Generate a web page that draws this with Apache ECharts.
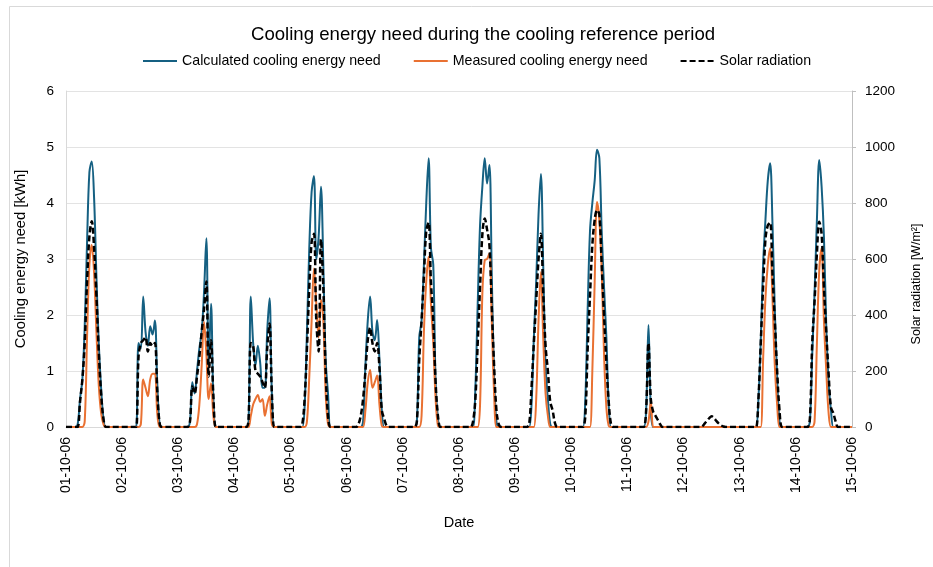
<!DOCTYPE html>
<html>
<head>
<meta charset="utf-8">
<script src="https://cdn.jsdelivr.net/npm/echarts@6/dist/echarts.min.js"></script>
<style>
  html, body { margin: 0; padding: 0; background: #fff; }
  #chart { width: 933px; height: 567px; }
</style>
</head>
<body>
<div id="chart"></div>
<script>
// tick labels, one per day boundary
var dateLabels = ['01-10-06', '02-10-06', '03-10-06', '04-10-06', '05-10-06', '06-10-06', '07-10-06',
  '08-10-06', '09-10-06', '10-10-06', '11-10-06', '12-10-06', '13-10-06', '14-10-06', '15-10-06'];

// hourly values, one row of 24 per day
// calculated cooling energy need [kWh]
var calcDays = [
  [0,0,0,0,0,0.05,0.5,0.85,1.8,3.3,4.55,4.74,4.1,2.7,1.5,0.7,0.15,0,0,0,0,0,0,0],
  [0,0,0,0,0,0,0,1.5,1.4,2.33,1.7,1.45,1.8,1.65,1.9,0.8,0.05,0,0,0,0,0,0,0],
  [0,0,0,0,0,0.1,0.8,0.6,1.0,1.4,1.7,2.4,3.37,1.1,2.2,0.5,0,0,0,0,0,0,0,0],
  [0,0,0,0,0,0,0.05,2.33,1.5,1.1,1.45,1.15,0.7,0.7,1.7,2.3,0.6,0,0,0,0,0,0,0],
  [0,0,0,0,0,0,0.35,1.7,3.2,4.2,4.48,3.0,3.4,4.29,2.9,1.2,0.6,0,0,0,0,0,0,0],
  [0,0,0,0,0,0,0,0.1,1.1,1.9,2.33,1.7,1.55,1.91,1.2,0.3,0,0,0,0,0,0,0,0],
  [0,0,0,0,0,0,0.1,1.6,1.9,2.9,4.0,4.8,3.2,2.9,0.8,0.15,0,0,0,0,0,0,0,0],
  [0,0,0,0,0,0,0,0.7,2.2,3.6,4.3,4.8,4.35,4.68,2.74,0.9,0.1,0,0,0,0,0,0,0],
  [0,0,0,0,0,0,0,0.4,1.6,2.6,3.8,4.52,2.9,1.1,0.5,0.05,0,0,0,0,0,0,0,0],
  [0,0,0,0,0,0,0.5,2.1,3.5,4.0,4.4,4.95,4.8,3.5,2.5,1.6,0.4,0,0,0,0,0,0,0],
  [0,0,0,0,0,0,0,0,0.3,1.82,0.3,0,0,0,0,0,0,0,0,0,0,0,0,0],
  [0,0,0,0,0,0,0,0,0,0,0,0,0,0,0,0,0,0,0,0,0,0,0,0],
  [0,0,0,0,0,0,0,0,0.5,1.55,2.9,3.7,4.4,4.71,3.64,2.1,0.9,0.1,0,0,0,0,0,0],
  [0,0,0,0,0,0,0.1,1.3,2.4,3.7,4.77,4.3,3.4,1.8,0.8,0.3,0,0,0,0,0,0,0,0]
];

// measured cooling energy need [kWh]
var measDays = [
  [0,0,0,0,0,0,0,0,0.1,1.6,2.9,3.25,2.75,1.7,0.75,0.25,0.05,0,0,0,0,0,0,0],
  [0,0,0,0,0,0,0,0,0.05,0.85,0.7,0.55,0.85,0.95,0.95,0.25,0,0,0,0,0,0,0,0],
  [0,0,0,0,0,0,0,0,0.05,0.4,1.1,1.88,1.3,0.5,0.78,0.2,0,0,0,0,0,0,0,0],
  [0,0,0,0,0,0,0,0.2,0.4,0.5,0.57,0.45,0.5,0.2,0.4,0.55,0.05,0,0,0,0,0,0,0],
  [0,0,0,0,0,0,0,0.1,0.9,1.9,2.83,2.2,1.6,2.27,1.9,0.6,0.05,0,0,0,0,0,0,0],
  [0,0,0,0,0,0,0,0,0.3,0.8,1.02,0.7,0.8,0.92,0.4,0.02,0,0,0,0,0,0,0,0],
  [0,0,0,0,0,0,0,0,0.2,1.7,2.6,3.04,2.2,1.5,0.5,0.02,0,0,0,0,0,0,0,0],
  [0,0,0,0,0,0,0,0,0,0.4,2.4,2.98,3.0,3.1,1.9,0.6,0,0,0,0,0,0,0,0],
  [0,0,0,0,0,0,0,0,0,0.5,1.9,2.77,1.6,0.6,0.2,0,0,0,0,0,0,0,0,0],
  [0,0,0,0,0,0,0,0,0,1.0,2.6,4.02,3.7,2.8,1.3,0.35,0.02,0,0,0,0,0,0,0],
  [0,0,0,0,0,0,0,0,0,0.1,0.45,0,0,0,0,0,0,0,0,0,0,0,0,0],
  [0,0,0,0,0,0,0,0,0,0,0,0,0,0,0,0,0,0,0,0,0,0,0,0],
  [0,0,0,0,0,0,0,0,0,0,1.2,2.3,2.9,3.19,2.3,1.1,0.4,0,0,0,0,0,0,0],
  [0,0,0,0,0,0,0,0,0.1,1.5,2.8,3.19,1.9,1.0,0.25,0,0,0,0,0,0,0,0,0]
];

// solar radiation [W/m2]
var solarDays = [
  [0,0,0,0,0,0,90,170,300,520,680,735,640,470,270,120,30,0,0,0,0,0,0,0],
  [0,0,0,0,0,0,0,250,300,310,320,270,300,290,300,130,15,0,0,0,0,0,0,0],
  [0,0,0,0,0,20,145,120,180,250,340,420,520,180,310,110,0,0,0,0,0,0,0,0],
  [0,0,0,0,0,0,20,300,290,200,190,180,160,140,280,370,120,0,0,0,0,0,0,0],
  [0,0,0,0,0,10,100,280,500,660,690,380,270,670,500,200,40,0,0,0,0,0,0,0],
  [0,0,0,0,0,10,40,100,200,310,355,300,270,300,210,60,30,5,0,0,0,0,0,0],
  [0,0,0,0,0,0,20,240,380,540,700,730,520,380,160,40,0,0,0,0,0,0,0,0],
  [0,0,0,0,0,0,20,100,300,500,690,745,705,650,430,220,60,10,0,0,0,0,0,0],
  [0,0,0,0,0,0,10,140,300,450,600,690,480,290,200,90,60,15,0,0,0,0,0,0],
  [0,0,0,0,0,0,40,280,470,650,740,775,760,580,400,230,90,10,0,0,0,0,0,0],
  [0,0,0,0,0,0,0,0,60,300,100,55,40,25,10,0,0,0,0,0,0,0,0,0],
  [0,0,0,0,0,0,0,0,3,12,22,32,38,32,22,13,6,2,0,0,0,0,0,0],
  [0,0,0,0,0,0,0,0,100,300,500,670,720,730,550,380,200,60,0,0,0,0,0,0],
  [0,0,0,0,0,0,30,300,450,620,733,690,500,340,190,70,50,20,0,0,0,0,0,0]
];
var lastHour = { calc: 0, meas: 0, solar: 0 };

// flatten rows into hourly series
function flat(days, last) {
  var out = [];
  days.forEach(function (d) { out = out.concat(d); });
  out.push(last);
  return out;
}
var calc = flat(calcDays, lastHour.calc);
var meas = flat(measDays, lastHour.meas);
var solar = flat(solarDays, lastHour.solar);

var hours = [];
for (var i = 0; i < calc.length; i++) {
  hours.push(dateLabels[Math.floor(i / 24)] + ' ' + (i % 24) + ':00');
}

var chart = echarts.init(document.getElementById('chart'));
var font = 'Liberation Sans, Arial, sans-serif';

var option = {
  backgroundColor: '#fff',
  textStyle: { fontFamily: font },
  animation: false,
  graphic: [{
    type: 'rect',
    shape: { x: 9.5, y: 6.5, width: 1000, height: 1000 },
    style: { fill: 'none', stroke: '#d9d9d9', lineWidth: 1 }
  }, {
    // right axis title, Excel puts it a bit below the middle
    type: 'text',
    x: 917,
    y: 284,
    rotation: Math.PI / 2,
    style: {
      text: 'Solar radiation [W/m²]',
      font: '12.5px Liberation Sans, Arial, sans-serif',
      fill: '#000',
      align: 'center',
      verticalAlign: 'middle'
    }
  }],
  title: {
    text: 'Cooling energy need during the cooling reference period',
    left: 246,
    top: 20,
    textStyle: { fontSize: 18.6, fontWeight: 'normal', color: '#000', fontFamily: font }
  },
  legend: {
    top: 49,
    left: 137,
    itemWidth: 34,
    itemHeight: 12,
    itemGap: 32,
    itemStyle: { opacity: 0 },
    textStyle: { fontSize: 14.2, color: '#000', fontFamily: font },
    data: ['Calculated cooling energy need', 'Measured cooling energy need', 'Solar radiation']
  },
  grid: { left: 66, right: 81, top: 91, bottom: 140 },
  xAxis: {
    type: 'category',
    data: hours,
    boundaryGap: false,
    name: 'Date',
    nameLocation: 'middle',
    nameGap: 88,
    nameTextStyle: { fontSize: 14.5, color: '#000' },
    axisLine: { lineStyle: { color: '#d9d9d9' } },
    axisTick: { show: false },
    axisLabel: {
      interval: function (idx) { return idx % 24 === 0; },
      formatter: function (v, idx) { return dateLabels[Math.floor(idx / 24)]; },
      rotate: 90,
      margin: 10,
      fontSize: 14,
      color: '#000'
    },
    splitLine: { show: false }
  },
  yAxis: [{
    type: 'value',
    min: 0, max: 6, interval: 1,
    name: 'Cooling energy need [kWh]',
    nameLocation: 'middle',
    nameGap: 38,
    nameRotate: 90,
    nameTextStyle: { fontSize: 14.8, color: '#000' },
    axisLine: { show: true, lineStyle: { color: '#d9d9d9' } },
    axisTick: { show: false },
    axisLabel: { fontSize: 13.5, color: '#000', margin: 12 },
    splitLine: { lineStyle: { color: '#e3e3e3' } }
  }, {
    type: 'value',
    min: 0, max: 1200, interval: 200,
    axisLine: { show: true, lineStyle: { color: '#bfbfbf' } },
    axisTick: { show: true, length: 4, lineStyle: { color: '#bfbfbf' } },
    axisLabel: { fontSize: 13.5, color: '#000', margin: 13, formatter: function (v) { return String(v); } },
    splitLine: { show: false }
  }],
  series: [{
    name: 'Calculated cooling energy need',
    type: 'line',
    data: calc,
    yAxisIndex: 0,
    smooth: 0.35,
    symbol: 'none',
    lineStyle: { color: '#156082', width: 2 },
    itemStyle: { color: '#156082' },
    z: 2
  }, {
    name: 'Measured cooling energy need',
    type: 'line',
    data: meas,
    yAxisIndex: 0,
    smooth: 0.35,
    symbol: 'none',
    lineStyle: { color: '#E97132', width: 2 },
    itemStyle: { color: '#E97132' },
    z: 3
  }, {
    name: 'Solar radiation',
    type: 'line',
    data: solar,
    yAxisIndex: 1,
    smooth: 0.35,
    symbol: 'none',
    lineStyle: { color: '#000', width: 2.5, type: [6, 3] },
    itemStyle: { color: '#000' },
    z: 4
  }]
};

chart.setOption(option);
</script>
</body>
</html>
